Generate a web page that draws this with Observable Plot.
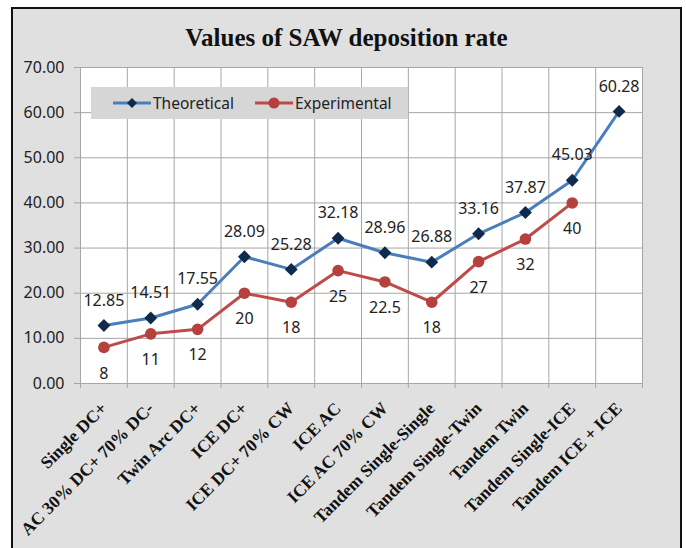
<!DOCTYPE html>
<html>
<head>
<meta charset="utf-8">
<script src="https://cdn.jsdelivr.net/npm/d3@7"></script>
<script src="https://cdn.jsdelivr.net/npm/@observablehq/plot@0.6"></script>
<style>
  html, body { margin: 0; padding: 0; background: #ffffff; }
  #wrap { position: relative; width: 686px; height: 548px; overflow: hidden; }
  #frame { position: absolute; left: 11px; top: 7px; width: 671px; height: 560px; box-sizing: border-box;
           border: 2px solid #111; background: #e0e0e0; }
  #title { position: absolute; left: 0; top: 24px; width: 693px; text-align: center;
           font: bold 25px "Liberation Serif", "Times New Roman", serif; line-height: 28px; color: #111; }
  #chart { position: absolute; left: 0; top: 0; }
  #legend { position: absolute; left: 91px; top: 87px; width: 317px; height: 32px; background: #d6d6d6;
            font: 15.5px "Noto Sans", sans-serif; color: #222; }
  .item { position: absolute; top: 0; height: 32px; display: flex; align-items: center; }
  .item svg { margin-right: 2px; }
  #chart g[aria-label="x-axis tick label"] text { font: bold 17.5px "Liberation Serif", "Times New Roman", serif; fill: #111; }
  #chart g[aria-label="y-axis tick label"] text { font: 16px "Noto Sans", sans-serif; fill: #222; }
  #chart g[aria-label="text"] text { font: 16px "Noto Sans", sans-serif; fill: #222; }
</style>
</head>
<body>
<div id="wrap">
  <div id="frame"></div>
  <div id="chart"></div>
  <div id="title"></div>
  <div id="legend"></div>
</div>
<script>
const titleText = "Values of SAW deposition rate";
const categories = [
  "Single DC+", "AC 30% DC+ 70% DC-", "Twin Arc DC+", "ICE DC+", "ICE DC+ 70% CW", "ICE AC",
  "ICE AC 70% CW", "Tandem Single-Single", "Tandem Single-Twin", "Tandem Twin", "Tandem Single-ICE", "Tandem ICE + ICE"
];
const theoretical = [12.85, 14.51, 17.55, 28.09, 25.28, 32.18, 28.96, 26.88, 33.16, 37.87, 45.03, 60.28];
const experimental = [8, 11, 12, 20, 18, 25, 22.5, 18, 27, 32, 40, null];
const seriesNames = ["Theoretical", "Experimental"];
const yTicks = [0, 10, 20, 30, 40, 50, 60, 70];

const colors = { tLine: "#4a7ebb", tMark: "#0f2a4a", eLine: "#be4b48", eMark: "#b5403d" };

const rows = categories.map((c, i) => ({ i, c, t: theoretical[i], e: experimental[i] }));
const expRows = rows.filter(d => d.e != null);
const bounds = d3.range(-0.5, categories.length, 1);

document.getElementById("title").textContent = titleText;

const chart = Plot.plot({
  width: 686,
  height: 548,
  marginLeft: 80,
  marginRight: 44,
  marginTop: 67,
  marginBottom: 165,
  style: { background: "transparent" },
  x: { type: "linear", domain: [-0.5, categories.length - 0.5], label: null },
  y: { domain: [0, 70], label: null },
  marks: [
    Plot.frame({ fill: "white", stroke: "none" }),
    Plot.ruleY(yTicks, { y: d => d, stroke: "#a6a6a6", strokeWidth: 1, insetLeft: -6 }),
    Plot.ruleX(bounds, { x: d => d, stroke: "#a6a6a6", strokeWidth: 1, insetBottom: -5 }),
    Plot.axisY({ ticks: yTicks, tickSize: 0, tickPadding: 16, tickFormat: d => d.toFixed(2), line: false, label: null }),
    Plot.axisX({ ticks: d3.range(categories.length), tickSize: 0, tickPadding: 22, tickRotate: -45,
                 tickFormat: i => categories[i], label: null }),
    Plot.lineY(rows, { x: "i", y: "t", stroke: colors.tLine, strokeWidth: 3 }),
    Plot.lineY(expRows, { x: "i", y: "e", stroke: colors.eLine, strokeWidth: 3 }),
    Plot.dot(rows, { x: "i", y: "t", symbol: "diamond2", r: 5.8, fill: colors.tMark }),
    Plot.dot(expRows, { x: "i", y: "e", symbol: "circle", r: 5.8, fill: colors.eMark }),
    Plot.text(rows, { x: "i", y: "t", text: d => d.t.toFixed(2), dy: -25 }),
    Plot.text(expRows, { x: "i", y: "e", text: d => String(d.e), dy: 26 })
  ]
});
document.getElementById("chart").appendChild(chart);

// legend
const legend = document.getElementById("legend");
const legendItems = [
  { name: seriesNames[0], line: colors.tLine, mark: colors.tMark, shape: "diamond", left: 22 },
  { name: seriesNames[1], line: colors.eLine, mark: colors.eMark, shape: "circle", left: 164 }
];
for (const it of legendItems) {
  const div = document.createElement("div");
  div.className = "item";
  div.style.left = it.left + "px";
  const m = it.shape === "diamond"
    ? `<path d="M19,10 L24,15 L19,20 L14,15 Z" fill="${it.mark}"/>`
    : `<circle cx="19" cy="15" r="5.5" fill="${it.mark}"/>`;
  div.innerHTML = `<svg width="38" height="30"><line x1="0" x2="38" y1="15" y2="15" stroke="${it.line}" stroke-width="3"/>${m}</svg><span>${it.name}</span>`;
  legend.appendChild(div);
}
</script>
</body>
</html>
